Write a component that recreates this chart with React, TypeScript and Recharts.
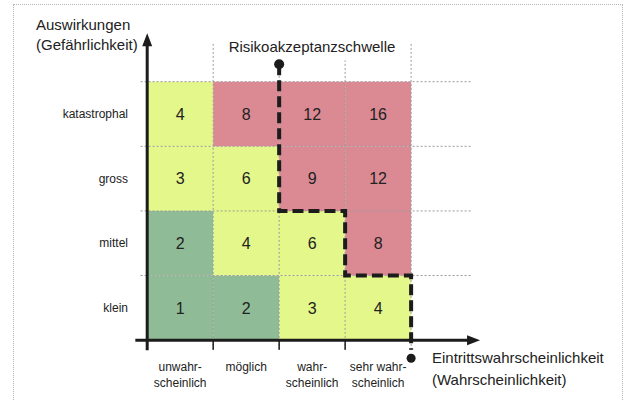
import React from "react";
import {
  ScatterChart,
  Scatter,
  XAxis,
  YAxis,
  ReferenceArea,
  ReferenceLine,
} from "recharts";

// Risikomatrix: Eintrittswahrscheinlichkeit x Auswirkungen

const likelihood = [
  ["unwahr-", "scheinlich"],
  ["möglich"],
  ["wahr-", "scheinlich"],
  ["sehr wahr-", "scheinlich"],
];

// von unten nach oben
const impact = ["klein", "mittel", "gross", "katastrophal"];

const scores = [
  [1, 2, 3, 4],
  [2, 4, 6, 8],
  [3, 6, 9, 12],
  [4, 8, 12, 16],
];

const zones = [
  ["low", "low", "mid", "mid"],
  ["low", "mid", "mid", "high"],
  ["mid", "mid", "high", "high"],
  ["mid", "high", "high", "high"],
];

// Risikoakzeptanzschwelle (Treppe)
const thresholdSteps = [
  { x: 2, y: 4.27 },
  { x: 2, y: 2 },
  { x: 3, y: 2 },
  { x: 3, y: 1 },
  { x: 4, y: 1 },
  { x: 4, y: -0.15 },
];

const thresholdEnds = [
  { x: 2, y: 4.27, r: 5 },
  { x: 4, y: -0.28, r: 4.5 },
];

const zoneColors: Record<string, string> = {
  low: "#8fbc97",
  mid: "#e4f78a",
  high: "#db8a94",
};

const centers = [0.5, 1.5, 2.5, 3.5];
const INK = "#1c1c1c";
const GRID = "#9a9a9a";
const FONT = "'Liberation Sans', Arial, sans-serif";

const cells = impact.flatMap((_, row) =>
  likelihood.map((_, col) => ({
    key: `${row}-${col}`,
    x1: col,
    x2: col + 1,
    y1: row,
    y2: row + 1,
    score: scores[row][col],
    zone: zones[row][col],
  }))
);

const XTick = ({ x, y, payload }: any) => {
  const lines = likelihood[Math.floor(payload.value)] || [];
  return (
    <text x={x} y={y} textAnchor="middle" fontSize={12} fill="#222">
      {lines.map((l, i) => (
        <tspan key={i} x={x} dy={i === 0 ? 5 : 16}>
          {l}
        </tspan>
      ))}
    </text>
  );
};

const YTick = ({ x, y, payload }: any) => (
  <text
    x={x - 6}
    y={y}
    dy={4}
    textAnchor="end"
    fontSize={12}
    fill="#222"
  >
    {impact[Math.floor(payload.value)]}
  </text>
);

const ArrowRight = ({ cx, cy }: any) => (
  <polygon
    points={`${cx},${cy} ${cx - 13},${cy - 5} ${cx - 13},${cy + 5}`}
    fill={INK}
  />
);

const ArrowUp = ({ cx, cy }: any) => (
  <polygon
    points={`${cx},${cy} ${cx - 5},${cy + 13} ${cx + 5},${cy + 13}`}
    fill={INK}
  />
);

const EndDot = ({ cx, cy, payload }: any) => (
  <circle cx={cx} cy={cy} r={payload.r} fill={INK} />
);

export default function App() {
  return (
    <div
      style={{
        position: "fixed",
        left: 0,
        top: 0,
        width: 626,
        height: 401,
        overflow: "hidden",
        background: "#fff",
        fontFamily: FONT,
      }}
    >
      <div
        style={{
          position: "absolute",
          left: 13,
          top: 4,
          width: 608,
          height: 420,
          border: "1px dotted #b5b5b5",
        }}
      />
      <ScatterChart
        width={626}
        height={401}
        margin={{ top: 30, right: 139, bottom: 0, left: 0 }}
      >
        <XAxis
          type="number"
          dataKey="x"
          domain={[-0.2, 5.15]}
          ticks={centers}
          interval={0}
          axisLine={false}
          tickLine={false}
          tickSize={0}
          tickMargin={0}
          height={35}
          tick={<XTick />}
        />
        <YAxis
          type="number"
          dataKey="y"
          domain={[-0.4, 4.8]}
          ticks={centers}
          interval={0}
          axisLine={false}
          tickLine={false}
          tickSize={0}
          tickMargin={0}
          width={134}
          tick={<YTick />}
        />

        {cells.map((c) => (
          <ReferenceArea
            key={c.key}
            x1={c.x1}
            x2={c.x2}
            y1={c.y1}
            y2={c.y2}
            fill={zoneColors[c.zone]}
            fillOpacity={1}
            stroke="none"
            label={{
              value: c.score,
              position: "center",
              fontSize: 16,
              fill: "#222",
            }}
          />
        ))}

        {[1, 2, 3, 4].map((v) => (
          <ReferenceLine
            key={`h${v}`}
            segment={[
              { x: -0.1, y: v },
              { x: 4.92, y: v },
            ]}
            stroke={GRID}
            strokeDasharray="2 2"
          />
        ))}
        {[1, 2, 3, 4].map((v) => (
          <ReferenceLine
            key={`v${v}`}
            segment={[
              { x: v, y: -0.15 },
              { x: v, y: v === 1 || v === 4 ? 4.61 : 4.33 },
            ]}
            stroke={GRID}
            strokeDasharray="2 2"
          />
        ))}
        {[1, 2, 3].map((v) => (
          <ReferenceLine
            key={`t${v}`}
            segment={[
              { x: v, y: 0 },
              { x: v, y: -0.15 },
            ]}
            stroke={INK}
            strokeWidth={1.5}
          />
        ))}

        <ReferenceLine
          segment={[
            { x: -0.18, y: 0 },
            { x: 4.9, y: 0 },
          ]}
          stroke={INK}
          strokeWidth={3}
        />
        <ReferenceLine
          segment={[
            { x: 0, y: -0.155 },
            { x: 0, y: 4.6 },
          ]}
          stroke={INK}
          strokeWidth={3}
        />

        <Scatter
          data={[{ x: 5.045, y: 0 }]}
          shape={<ArrowRight />}
          isAnimationActive={false}
        />
        <Scatter
          data={[{ x: 0, y: 4.75 }]}
          shape={<ArrowUp />}
          isAnimationActive={false}
        />

        <Scatter
          data={thresholdSteps}
          line={{
            stroke: INK,
            strokeWidth: 4,
            strokeDasharray: "11 5",
          }}
          lineType="joint"
          shape={() => <g />}
          isAnimationActive={false}
        />
        <Scatter
          data={thresholdEnds}
          shape={<EndDot />}
          isAnimationActive={false}
        />
      </ScatterChart>

      <div
        style={{
          position: "absolute",
          left: 36,
          top: 15,
          fontSize: 15,
          lineHeight: "20px",
          color: "#222",
        }}
      >
        Auswirkungen
        <br />
        (Gefährlichkeit)
      </div>
      <div
        style={{
          position: "absolute",
          left: 213,
          width: 198,
          top: 37,
          textAlign: "center",
          fontSize: 15,
          lineHeight: "20px",
          color: "#222",
        }}
      >
        Risikoakzeptanzschwelle
      </div>
      <div
        style={{
          position: "absolute",
          left: 432,
          top: 347,
          fontSize: 15,
          lineHeight: "22px",
          color: "#222",
        }}
      >
        Eintrittswahrscheinlichkeit
        <br />
        (Wahrscheinlichkeit)
      </div>
    </div>
  );
}
